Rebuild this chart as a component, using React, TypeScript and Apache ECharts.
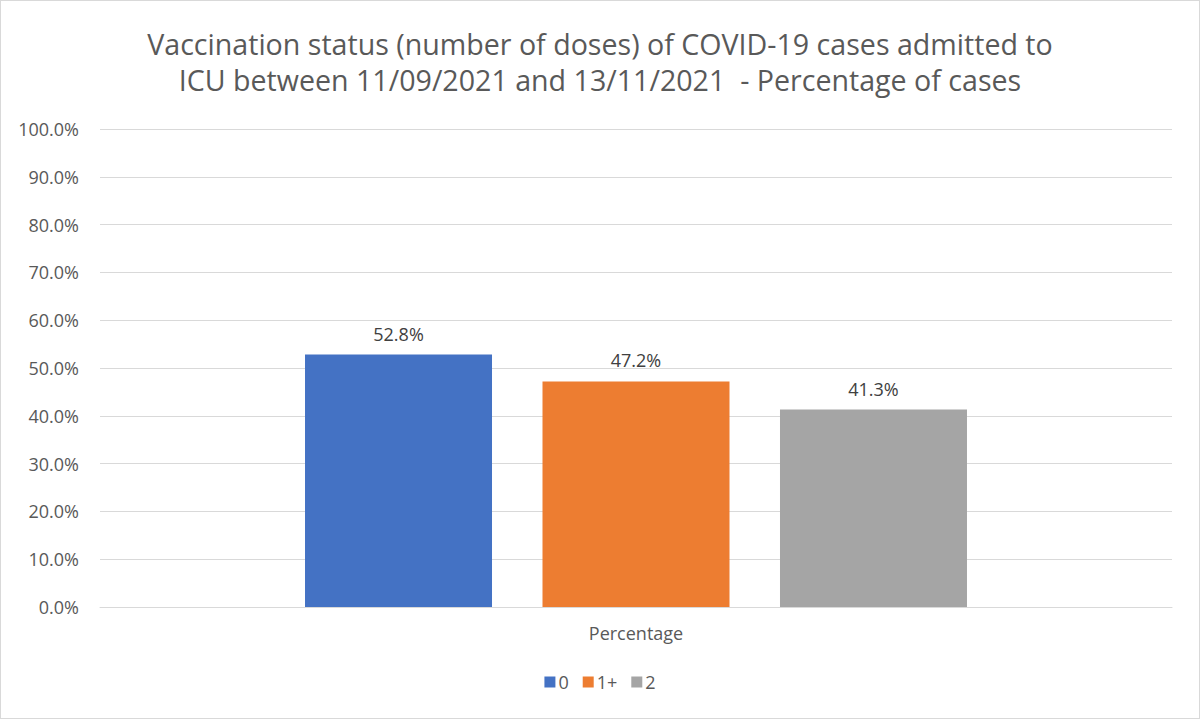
import React, { useEffect, useRef } from 'react'
import * as echarts from 'echarts'

const categories = ['Percentage']
const seriesNames = ['0', '1+', '2']
const seriesValues = [[52.8], [47.2], [41.3]]
const seriesColors = ['#4472C4', '#ED7D31', '#A5A5A5']
const titleText =
    'Vaccination status (number of doses) of COVID-19 cases admitted to\nICU between 11/09/2021 and 13/11/2021  - Percentage of cases'

const FONT = '"Open Sans", "Noto Sans", sans-serif'

const App = () => {
    const chartRef = useRef<HTMLDivElement>(null)

    useEffect(() => {
        document.body.style.margin = '0'
        if (!chartRef.current) return
        const chart = echarts.init(chartRef.current, null, { renderer: 'svg' })

        const option = {
            animation: false,
            backgroundColor: '#ffffff',
            textStyle: { fontFamily: FONT },
            title: {
                text: titleText,
                left: 'center',
                top: 19,
                textStyle: {
                    fontFamily: FONT,
                    fontSize: 28.6,
                    fontWeight: 'normal',
                    color: '#595959',
                    lineHeight: 36,
                    align: 'center',
                },
            },
            legend: {
                bottom: 22,
                left: 'center',
                itemWidth: 11,
                itemHeight: 11,
                itemGap: 14,
                icon: 'rect',
                textStyle: { fontFamily: FONT, fontSize: 18, color: '#595959', padding: [0, 0, 0, -2] },
                data: seriesNames,
            },
            grid: { left: 99, right: 27, top: 128, bottom: 111, containLabel: false },
            xAxis: {
                type: 'category',
                data: categories,
                axisLine: { lineStyle: { color: '#D9D9D9', width: 1 } },
                axisTick: { show: false },
                axisLabel: { fontFamily: FONT, fontSize: 18, color: '#595959', margin: 17 },
            },
            yAxis: {
                type: 'value',
                min: 0,
                max: 100,
                interval: 10,
                axisLine: { show: false },
                axisTick: { show: false },
                splitLine: { lineStyle: { color: '#D9D9D9', width: 1 } },
                axisLabel: {
                    fontFamily: FONT,
                    fontSize: 18,
                    color: '#595959',
                    margin: 21,
                    formatter: (v: number) => v.toFixed(1) + '%',
                },
            },
            series: seriesNames.map((name, i) => ({
                name,
                type: 'bar',
                data: seriesValues[i],
                barWidth: 187,
                barGap: '27%',
                itemStyle: { color: seriesColors[i] },
                label: {
                    show: true,
                    position: 'top',
                    distance: 12,
                    fontFamily: FONT,
                    fontSize: 18,
                    color: '#404040',
                    formatter: (p: any) => p.value.toFixed(1) + '%',
                },
            })),
        }

        chart.setOption(option)
        const handleResize = () => chart.resize()
        window.addEventListener('resize', handleResize)
        return () => {
            window.removeEventListener('resize', handleResize)
            chart.dispose()
        }
    }, [])

    return (
        <div
            style={{
                width: 1200,
                height: 719,
                boxSizing: 'border-box',
                border: '1px solid #D9D9D9',
                background: '#fff',
            }}
        >
            <div ref={chartRef} style={{ width: 1198, height: 717 }} />
        </div>
    )
}

export default App
